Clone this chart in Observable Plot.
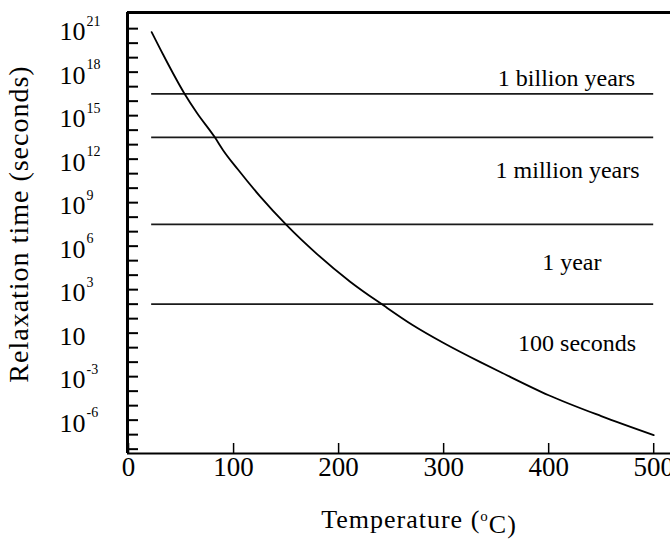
<!DOCTYPE html>
<html><head><meta charset="utf-8">
<script src="https://cdn.jsdelivr.net/npm/d3@7"></script>
<script src="https://cdn.jsdelivr.net/npm/@observablehq/plot@0.6"></script>
<style>body{margin:0;background:#fff;overflow:hidden}</style>
</head><body><div id="chart"></div>
<script>
// Curve: temperature (°C) and log10 of relaxation time (s)
const temperature = [22, 33, 53, 65, 82, 90, 104, 125, 150.5, 180, 211, 243, 270, 300, 335, 354, 400, 450, 500];
const logRelaxation = [20.76, 19.2, 16.55, 15.2, 13.52, 12.62, 11.3, 9.45, 7.45, 5.42, 3.55, 1.9, 0.58, -0.68, -2.0, -2.68, -4.28, -5.72, -7.03];
// Reference durations
const refLabels = ["1 billion years", "1 million years", "1 year", "100 seconds"];
const refSeconds = [3.156e16, 3.156e13, 3.156e7, 100];
const labelLog = [17.6, 11.2, 4.9, -0.7];
const labelTemp = [417, 418, 422, 427];
// Axes
const xTicks = [0, 100, 200, 300, 400, 500];
const yLabelExps = [21, 18, 15, 12, 9, 6, 3, 0, -3, -6];
const yTickExps = d3.range(-8, 22);
const xDomain = [-1, 516];
const yDomain = [10 ** -8.3, 10 ** 22.114];

const curve = temperature.map((t, i) => ({t, tau: 10 ** logRelaxation[i]}));
const refs = refLabels.map((label, i) => ({label, s: refSeconds[i], ly: 10 ** labelLog[i], lx: labelTemp[i]}));
const font = "Liberation Serif, Times New Roman, serif";

const chart = Plot.plot({
  width: 670,
  height: 553,
  marginLeft: 127,
  marginRight: 0,
  marginTop: 12,
  marginBottom: 100,
  style: {fontFamily: font, fontSize: "24px", background: "#fff", overflow: "visible"},
  x: {domain: xDomain, axis: null},
  y: {type: "log", domain: yDomain, axis: null},
  marks: [
    Plot.tickY(yTickExps, {y: d => 10 ** d, insetRight: 543 - 11, stroke: "#000", strokeWidth: 2}),
    Plot.tickX(xTicks, {x: d => d, insetTop: 441 - 10, stroke: "#000", strokeWidth: 1.5}),
    Plot.ruleY(refs, {y: "s", x1: 22, x2: 500, stroke: "#1a1a1a", strokeWidth: 1.6}),
    Plot.line(curve, {x: "t", y: "tau", curve: "monotone-x", stroke: "#000", strokeWidth: 1.8}),
    Plot.ruleX([xDomain[0]], {stroke: "#000", strokeWidth: 3}),
    Plot.ruleY([yDomain[1]], {stroke: "#000", strokeWidth: 3}),
    Plot.ruleY([yDomain[0]], {stroke: "#000", strokeWidth: 2}),
    Plot.text(refs, {x: "lx", y: "ly", text: "label", fontSize: 24, fill: "#000"}),
    Plot.text(yLabelExps, {y: d => 10 ** d, text: () => "10", frameAnchor: "left", textAnchor: "end", lineAnchor: "middle", dx: -42, dy: 3.5, fontSize: 26, fill: "#000"}),
    Plot.text(yLabelExps, {y: d => 10 ** d, text: d => d === 0 ? "" : String(d), frameAnchor: "left", textAnchor: "start", lineAnchor: "middle", dx: -41, dy: -7.5, fontSize: 14, fill: "#000"}),
    Plot.text(xTicks, {x: d => d, text: d => String(d), frameAnchor: "bottom", lineAnchor: "middle", dy: 14, fontSize: 27, fill: "#000"}),
    Plot.text(["Temperature (oC)"], {frameAnchor: "bottom", textAnchor: "middle", lineAnchor: "middle", dx: 20, dy: 66, fontSize: 26, fill: "#000"}),
    Plot.text(["Relaxation time\u00a0(seconds)"], {frameAnchor: "left", textAnchor: "middle", lineAnchor: "middle", dx: -108, dy: -9, rotate: -90, fontSize: 28, fill: "#000"})
  ]
});

// superscript "o" in the temperature title, slight letter spacing on the axis titles
d3.select(chart).selectAll("text").filter(function () { return this.textContent === "Temperature (oC)"; })
  .attr("letter-spacing", 1)
  .each(function () {
    const t = d3.select(this);
    t.text(null);
    t.append("tspan").text("Temperature (");
    t.append("tspan").attr("dy", "-0.45em").attr("font-size", 15).text("o");
    t.append("tspan").attr("dy", "0.45em").text("C)");
  });
d3.select(chart).selectAll("text").filter(function () { return this.textContent.startsWith("Relaxation"); })
  .attr("letter-spacing", 1);

document.getElementById("chart").appendChild(chart);
</script>
</body></html>
